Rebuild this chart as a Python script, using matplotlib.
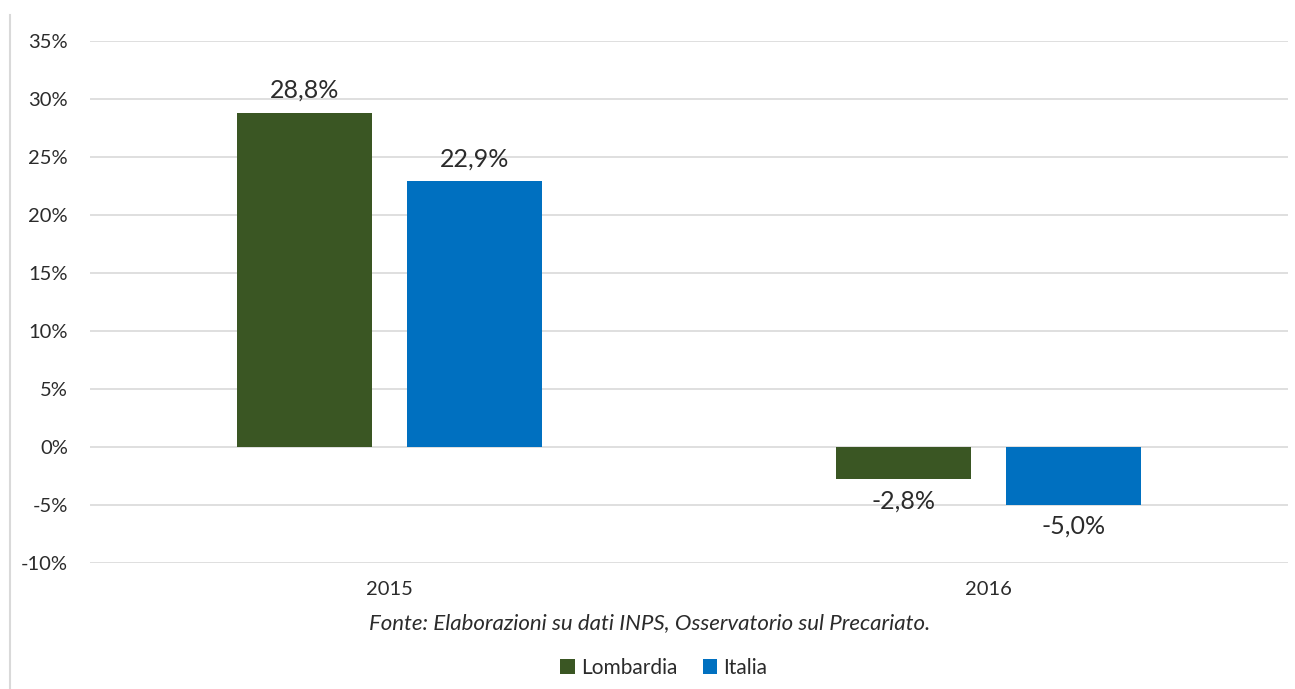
import matplotlib.pyplot as plt
from matplotlib.lines import Line2D
from matplotlib.patches import Patch
from matplotlib.ticker import FuncFormatter

# Dati
anni = ["2015", "2016"]
lombardia = [28.8, -2.8]
italia = [22.9, -5.0]
serie = ["Lombardia", "Italia"]
colori = ["#3A5623", "#0070C0"]
tick_y = [-10, -5, 0, 5, 10, 15, 20, 25, 30, 35]
fonte = "Fonte: Elaborazioni su dati INPS, Osservatorio sul Precariato."

plt.rcParams['font.family'] = ['Lato', 'DejaVu Sans']
testo = "#2B2B2B"

fig = plt.figure(figsize=(12.95, 6.89), dpi=100)
ax = fig.add_axes([90 / 1295, 1 - 563 / 689, (1288 - 90) / 1295, (563 - 41) / 689])

x = list(range(len(anni)))
larghezza = 0.224
scarto = 0.142

for valori, nome, colore, segno in [(lombardia, serie[0], colori[0], -1), (italia, serie[1], colori[1], 1)]:
    pos = [xi + segno * scarto for xi in x]
    barre = ax.bar(pos, valori, width=larghezza, color=colore, label=nome, zorder=3)
    for b, v in zip(barre, valori):
        etichetta = f"{v:.1f}%".replace(".", ",")
        if v >= 0:
            ax.annotate(etichetta, (b.get_x() + b.get_width() / 2, v), xytext=(0, 8),
                        textcoords="offset points", ha="center", va="bottom",
                        fontsize=18, color=testo)
        else:
            ax.annotate(etichetta, (b.get_x() + b.get_width() / 2, v), xytext=(0, -7),
                        textcoords="offset points", ha="center", va="top",
                        fontsize=18, color=testo)

ax.set_xlim(-0.5, 1.5)
ax.set_ylim(-10, 35)
ax.set_yticks(tick_y)
ax.yaxis.set_major_formatter(FuncFormatter(lambda v, p: f"{v:.0f}%"))
ax.set_xticks(x)
ax.set_xticklabels(anni)
ax.tick_params(axis="both", length=0, labelsize=14.5, colors=testo)
ax.tick_params(axis="y", pad=16)
ax.tick_params(axis="x", pad=13)

ax.grid(axis="y", color="#D9D9D9", linewidth=1.2, zorder=0)
for s in ax.spines.values():
    s.set_visible(False)

fig.text(650 / 1295, 1 - 623 / 689, fonte, ha="center", va="center",
         fontsize=16, style="italic", color=testo)

maniglie = [Patch(facecolor=c, label=n) for c, n in zip(colori, serie)]
fig.legend(handles=maniglie, loc="center", bbox_to_anchor=(664 / 1295, 1 - 668 / 689),
           ncol=2, frameon=False, fontsize=15, handlelength=0.7, handleheight=0.7,
           handletextpad=0.3, columnspacing=1.2, labelcolor=testo)

# bordo sinistro del riquadro
fig.add_artist(Line2D([10 / 1295, 10 / 1295], [0, 1 - 15 / 689], color="#D9D9D9", linewidth=1.5))

fig.savefig("out.png", dpi=100)
